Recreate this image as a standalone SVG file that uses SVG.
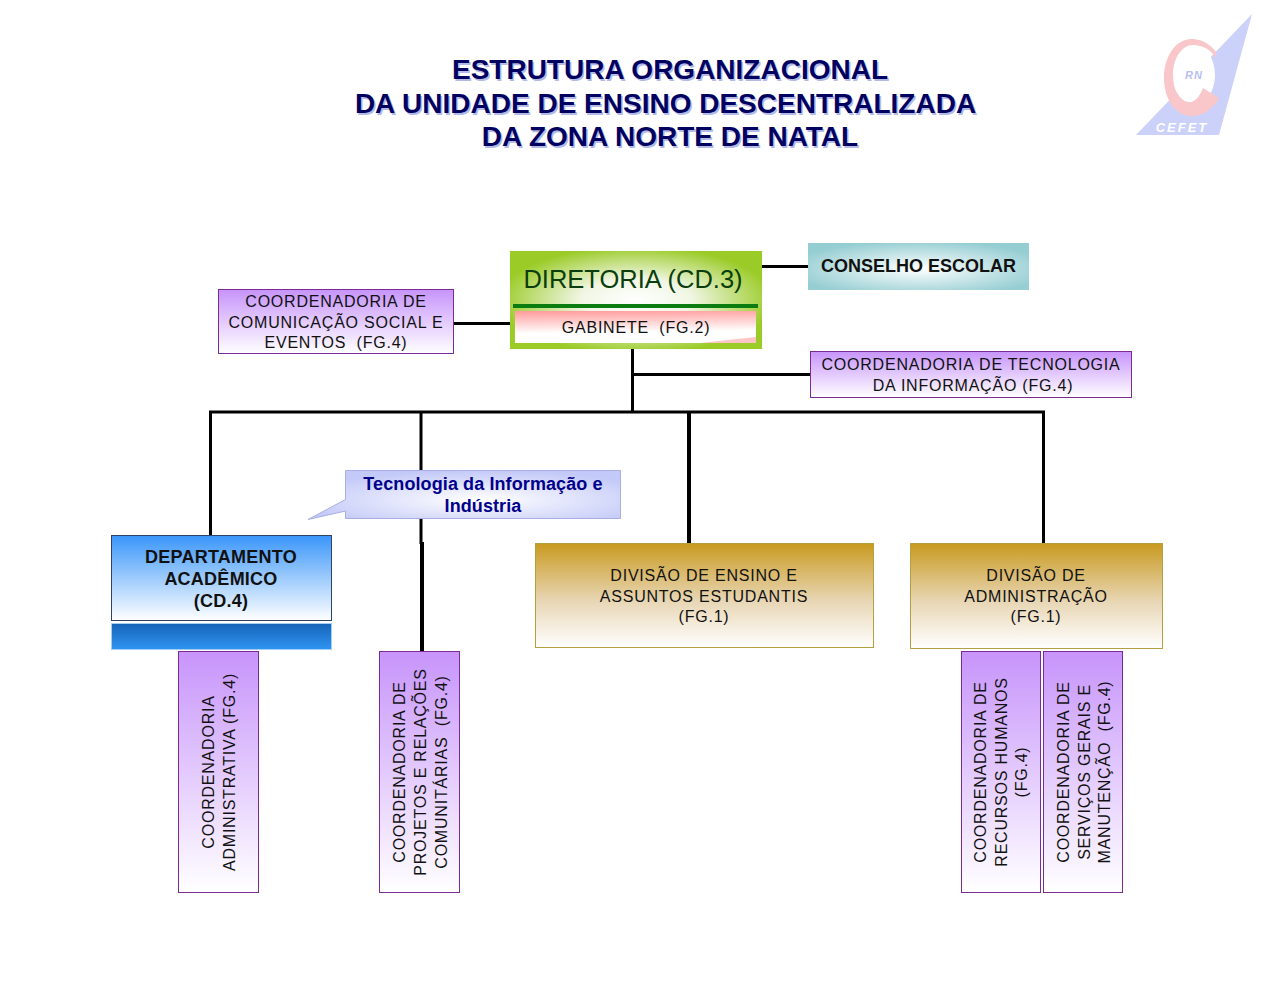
<svg xmlns="http://www.w3.org/2000/svg" width="1276" height="992" viewBox="0 0 1276 992">
<style>
text{font-family:"Liberation Sans",Arial,sans-serif;fill:#111;text-anchor:middle;white-space:pre}
.t{font-size:28px;font-weight:bold;fill:#000060}
.ts{font-size:28px;font-weight:bold;fill:#b3bae6}
.l{font-size:16px;letter-spacing:.78px}
.b{font-size:18px;font-weight:bold;letter-spacing:.25px}
.c{fill:none;stroke:#000;stroke-width:3}
.p{fill:url(#purple);stroke:#7b2a96;stroke-width:1}
.g{fill:url(#gold);stroke:#b5a040;stroke-width:1}
</style>
<defs>
<linearGradient id="purple" x1="0" y1="0" x2="0" y2="1"><stop offset="0" stop-color="#c794fb"/><stop offset="1" stop-color="#fff"/></linearGradient>
<linearGradient id="gold" x1="0" y1="0" x2="0" y2="1"><stop offset="0" stop-color="#c99a20"/><stop offset=".55" stop-color="#e8d6b4"/><stop offset="1" stop-color="#fff"/></linearGradient>
<linearGradient id="blue" x1="0" y1="0" x2="0" y2="1"><stop offset="0" stop-color="#3a96fa"/><stop offset="1" stop-color="#fff"/></linearGradient>
<linearGradient id="bar" x1="0" y1="0" x2="0" y2="1"><stop offset="0" stop-color="#1664b8"/><stop offset="1" stop-color="#2f94f2"/></linearGradient>
<linearGradient id="pink" x1="0" y1="0" x2=".1" y2="1"><stop offset="0" stop-color="#ff9a9a"/><stop offset=".7" stop-color="#fff"/><stop offset="1" stop-color="#fff"/></linearGradient>
<radialGradient id="green" cx=".5" cy=".5" r=".55"><stop offset="0" stop-color="#fff"/><stop offset=".4" stop-color="#f0f6e4"/><stop offset="1" stop-color="#9acb26"/></radialGradient>
<radialGradient id="teal" cx=".5" cy=".55" r=".6"><stop offset="0" stop-color="#fff"/><stop offset="1" stop-color="#94cdd2"/></radialGradient>
<radialGradient id="call" cx=".55" cy=".6" r=".6"><stop offset="0" stop-color="#fff"/><stop offset="1" stop-color="#c3c9f8"/></radialGradient>
</defs>

<g id="logo">
<polygon points="1252,14 1136,135 1219,135" fill="#ccd1f9"/>
<ellipse cx="1194" cy="75" rx="21" ry="30" fill="#fff"/>
<path d="M1216,52 C1208,42 1200,39 1192,39 C1175,39 1164,57 1164,78 C1164,100 1176,116 1192,116 C1204,116 1213,108 1219,98 L1203,88 C1199,98 1194,103 1188,102 C1179,100 1173,90 1173,75 C1173,58 1182,45 1193,45 C1203,45 1211,50 1216,58 Z" fill="#f9c7c9"/>
<text x="1194" y="79" style="font-size:11px;font-weight:bold;font-style:italic;fill:#b8bff0;letter-spacing:1px">RN</text>
<text x="1182" y="132" style="font-size:13px;font-weight:bold;font-style:italic;fill:#fff;letter-spacing:2px">CEFET</text>
</g>

<g id="title">
<text class="ts" x="671.500" y="80.500">ESTRUTURA ORGANIZACIONAL</text>
<text class="ts" x="667" y="114.500">DA UNIDADE DE ENSINO DESCENTRALIZADA</text>
<text class="ts" x="671.500" y="147.500">DA ZONA NORTE DE NATAL</text>
<text class="t" x="670" y="79">ESTRUTURA ORGANIZACIONAL</text>
<text class="t" x="665.500" y="113">DA UNIDADE DE ENSINO DESCENTRALIZADA</text>
<text class="t" x="670" y="146">DA ZONA NORTE DE NATAL</text>
</g>

<g id="connectors">
<path class="c" d="M762,266.500H808"/>
<path class="c" d="M453,323.500H510"/>
<path class="c" d="M632.500,348V412"/>
<path class="c" d="M632.500,374.500H811"/>
<path class="c" d="M209,412H1045"/>
<path class="c" d="M210.500,412V536"/>
<path class="c" d="M421,412V544"/>
<path class="c" style="stroke-width:4" d="M422,542V652"/>
<path class="c" style="stroke-width:4" d="M689,412V543"/>
<path class="c" d="M1043.500,412V543"/>
</g>

<g id="diretoria">
<rect x="510" y="251" width="252" height="98" fill="url(#green)"/>
<rect x="513" y="304" width="245" height="4" fill="#0b7d10"/>
<text x="633" y="288" style="font-size:25.500px;fill:#0c3d0c">DIRETORIA (CD.3)</text>
</g>
<g id="gabinete">
<rect x="515" y="311" width="241" height="32" fill="url(#pink)"/>
<polygon points="700,343 756,337 756,343" fill="#ffc4c4"/>
<text class="l" x="636" y="333">GABINETE  (FG.2)</text>
</g>
<g id="conselho">
<rect x="808" y="243" width="221" height="47" fill="url(#teal)"/>
<text class="b" x="918.500" y="272" style="letter-spacing:0">CONSELHO ESCOLAR</text>
</g>
<g id="comunicacao">
<rect class="p" x="218.500" y="289.500" width="235" height="64"/>
<text class="l" x="336" y="307">COORDENADORIA DE</text>
<text class="l" x="336" y="328">COMUNICAÇÃO SOCIAL E</text>
<text class="l" x="336" y="348">EVENTOS  (FG.4)</text>
</g>
<g id="tecnologia">
<rect class="p" x="810.500" y="351.500" width="321" height="46"/>
<text class="l" x="971" y="370">COORDENADORIA DE TECNOLOGIA</text>
<text class="l" x="973" y="391">DA INFORMAÇÃO (FG.4)</text>
</g>
<g id="callout">
<path d="M345.500,470.500H620.500V518.500H345.500V511L308,519.500L345.500,499.500Z" fill="url(#call)" stroke="#a9afe0" stroke-width="1"/>
<text class="b" x="483" y="490" style="fill:#00008b;letter-spacing:.1px">Tecnologia da Informação e</text>
<text class="b" x="483" y="512" style="fill:#00008b;letter-spacing:.1px">Indústria</text>
</g>
<g id="departamento">
<rect x="111.500" y="535.500" width="220" height="85" fill="url(#blue)" stroke="#2f4468"/>
<text class="b" x="221" y="563">DEPARTAMENTO</text>
<text class="b" x="221" y="585">ACADÊMICO</text>
<text class="b" x="221" y="607">(CD.4)</text>
<rect x="111.500" y="623.500" width="220" height="26" fill="url(#bar)" stroke="#a6cdf2"/>
</g>
<g id="ensino">
<rect class="g" x="535.500" y="543.500" width="338" height="104"/>
<text class="l" x="704" y="581">DIVISÃO DE ENSINO E</text>
<text class="l" x="704" y="602">ASSUNTOS ESTUDANTIS</text>
<text class="l" x="704" y="622">(FG.1)</text>
</g>
<g id="administracao">
<rect class="g" x="910.500" y="543.500" width="252" height="105"/>
<text class="l" x="1036" y="581">DIVISÃO DE</text>
<text class="l" x="1036" y="602">ADMINISTRAÇÃO</text>
<text class="l" x="1036" y="622">(FG.1)</text>
</g>
<g id="administrativa">
<rect class="p" x="178.500" y="651.500" width="80" height="241"/>
<g transform="translate(214,772) rotate(-90)"><text class="l" x="0" y="0">COORDENADORIA</text><text class="l" x="0" y="21">ADMINISTRATIVA (FG.4)</text></g>
</g>
<g id="projetos">
<rect class="p" x="379.500" y="651.500" width="80" height="241"/>
<g transform="translate(404.500,772) rotate(-90)"><text class="l" x="0" y="0">COORDENADORIA DE</text><text class="l" x="0" y="21">PROJETOS E RELAÇÕES</text><text class="l" x="0" y="42">COMUNITÁRIAS  (FG.4)</text></g>
</g>
<g id="rh">
<rect class="p" x="961.500" y="651.500" width="79" height="241"/>
<g transform="translate(986,772) rotate(-90)"><text class="l" x="0" y="0">COORDENADORIA DE</text><text class="l" x="0" y="21">RECURSOS HUMANOS</text><text class="l" x="0" y="41">(FG.4)</text></g>
</g>
<g id="servicos">
<rect class="p" x="1043.500" y="651.500" width="79" height="241"/>
<g transform="translate(1069,772) rotate(-90)"><text class="l" x="0" y="0">COORDENADORIA DE</text><text class="l" x="0" y="21">SERVIÇOS GERAIS E</text><text class="l" x="0" y="41">MANUTENÇÃO  (FG.4)</text></g>
</g>
</svg>
